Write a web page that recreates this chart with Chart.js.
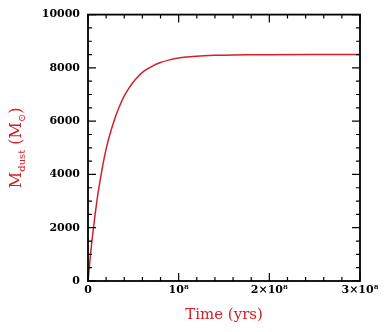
<!DOCTYPE html>
<html lang="en">
<head>
<meta charset="UTF-8">
<title>Dust mass vs time</title>
<script src="https://cdn.jsdelivr.net/npm/chart.js"></script>
<style>
  html, body { margin: 0; padding: 0; background: #fff; }
  #wrap { position: relative; width: 388px; height: 332px; }
</style>
</head>
<body>
<div id="wrap"><canvas id="chart_dust"></canvas></div>
<script>
// Data (time in years, dust mass in solar masses)
const timeYrs = [0, 1e6, 2e6, 4e6, 6e6, 8e6, 1.0e7, 1.2e7, 1.5e7, 1.8e7, 2.1e7, 2.5e7,
    3.0e7, 3.5e7, 4.0e7, 4.5e7, 5.0e7, 5.5e7, 6.0e7, 6.5e7, 7.0e7, 8.0e7, 9.0e7,
    1.0e8, 1.1e8, 1.2e8, 1.4e8, 1.6e8, 1.8e8, 2.0e8, 2.5e8, 3.0e8];
const dustMass = [0, 360, 720, 1400, 1980, 2540, 3050, 3500, 4100, 4640, 5100, 5600,
    6140, 6580, 6950, 7230, 7470, 7670, 7830, 7950, 8050, 8200, 8300,
    8370, 8410, 8440, 8470, 8485, 8492, 8496, 8500, 8500];

const xMajorLabels = { 0: '0', 100000000: '10\u2078', 200000000: '2\u00d710\u2078', 300000000: '3\u00d710\u2078' };
const yMajorStep = 2000;

const RED = '#d2202a';
const serif = '"DejaVu Serif", "Liberation Serif", serif';

// Inward tick marks on all four sides + frame
const frameTicks = {
    id: 'frameTicks',
    afterDraw(chart) {
        const { ctx, chartArea: a, scales } = chart;
        ctx.save();
        ctx.strokeStyle = '#000';
        ctx.lineWidth = 1.2;
        scales.x.ticks.forEach(t => {
            const px = scales.x.getPixelForValue(t.value);
            const len = (t.value % 1e8 === 0) ? 8 : 4;
            ctx.beginPath();
            ctx.moveTo(px, a.bottom); ctx.lineTo(px, a.bottom - len);
            ctx.moveTo(px, a.top); ctx.lineTo(px, a.top + len);
            ctx.stroke();
        });
        scales.y.ticks.forEach(t => {
            const py = scales.y.getPixelForValue(t.value);
            const len = (t.value % yMajorStep === 0) ? 8 : 4;
            ctx.beginPath();
            ctx.moveTo(a.left, py); ctx.lineTo(a.left + len, py);
            ctx.moveTo(a.right, py); ctx.lineTo(a.right - len, py);
            ctx.stroke();
        });
        ctx.lineWidth = 1.8;
        ctx.strokeRect(a.left, a.top, a.right - a.left, a.bottom - a.top);
        ctx.restore();
    }
};

// Y title with subscripts: M_dust (M_sun)
const yTitle = {
    id: 'yTitle',
    afterDraw(chart) {
        const { ctx, chartArea: a } = chart;
        const parts = [
            ['M', 16, 0], ['dust', 10, 4], [' (M', 16, 0], ['\u2299', 10, 4], [')', 16, 0]
        ];
        ctx.save();
        ctx.fillStyle = RED;
        ctx.textBaseline = 'alphabetic';
        let total = 0;
        parts.forEach(p => { ctx.font = p[1] + 'px ' + serif; total += ctx.measureText(p[0]).width; });
        ctx.translate(21, (a.top + a.bottom) / 2);
        ctx.rotate(-Math.PI / 2);
        let x = -total / 2;
        parts.forEach(p => {
            ctx.font = p[1] + 'px ' + serif;
            ctx.fillText(p[0], x, p[2]);
            x += ctx.measureText(p[0]).width;
        });
        ctx.restore();
    }
};

const chartDust = new Chart(document.getElementById('chart_dust').getContext('2d'), {
    type: 'line',
    data: {
        datasets: [{
            data: timeYrs.map((t, i) => ({ x: t, y: dustMass[i] })),
            borderColor: RED,
            borderWidth: 1.5,
            pointRadius: 0,
            fill: false,
            tension: 0.3,
            cubicInterpolationMode: 'monotone'
        }]
    },
    options: {
        responsive: true,
        maintainAspectRatio: false,
        animation: false,
        layout: { padding: { left: 0, right: 28, top: 11, bottom: 0 } },
        plugins: { legend: { display: false }, tooltip: { enabled: false } },
        scales: {
            x: {
                type: 'linear', min: 0, max: 3e8,
                grid: { display: false, drawTicks: false, tickLength: 0 },
                border: { display: false },
                afterFit: s => { s.height = 51; },
                ticks: {
                    stepSize: 2e7, autoSkip: false, maxRotation: 0, padding: 3,
                    color: '#000', font: { family: serif, size: 11, weight: 'bold' },
                    callback: v => xMajorLabels[v] !== undefined ? xMajorLabels[v] : ''
                },
                title: {
                    display: true, text: 'Time (yrs)', color: RED,
                    font: { family: serif, size: 15 }, padding: { top: 4, bottom: 8 }
                }
            },
            y: {
                min: 0, max: 10000,
                grid: { display: false, drawTicks: false, tickLength: 0 },
                border: { display: false },
                afterFit: s => { s.width = 88; },
                ticks: {
                    stepSize: 500, autoSkip: false, padding: 8,
                    color: '#000', font: { family: serif, size: 11, weight: 'bold' },
                    callback: v => v % yMajorStep === 0 ? String(v) : ''
                }
            }
        }
    },
    plugins: [frameTicks, yTitle]
});
</script>
</body>
</html>
